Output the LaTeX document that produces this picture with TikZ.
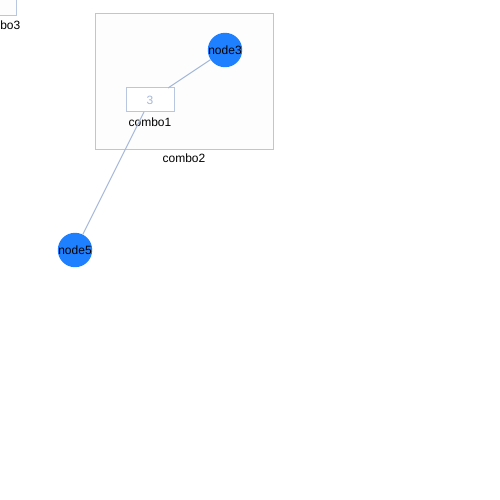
\documentclass[tikz,border=0pt]{standalone}
\usepackage{fontspec}
\setmainfont{Liberation Sans}
\begin{document}
\begin{tikzpicture}[x=1pt,y=-1pt,
  every node/.style={font=\fontsize{12}{14}\selectfont, inner sep=0pt, outer sep=0pt},
  combobox/.style={draw=combos, fill=combof, line width=1pt, rectangle},
  dot/.style={circle, fill=nodec, minimum size=32pt},
  lbl/.style={text=black},
  conn/.style={draw=edgec, line width=1pt}]
\definecolor{nodec}{HTML}{1F80FF}
\definecolor{edgec}{HTML}{A6B8DA}
\definecolor{combos}{HTML}{B8C6E2}
\definecolor{combof}{HTML}{FDFDFD}
\useasboundingbox[fill=white] (0,0) rectangle (500,500);
% combo3 (clipped)
\node[combobox, minimum width=34pt, minimum height=34pt] (c3) at (-1,-1.5) {};
\node[lbl] (c3l) at (-1,25) {combo3};
% combo2
\node[combobox, minimum width=178pt, minimum height=135pt] (c2) at (184,81.5) {};
\node[lbl] (c2l) at (184,158) {combo2};
% combo1
\node[combobox, fill=white, minimum width=48pt, minimum height=24pt, text=edgec] (c1) at (150,100) {3};
\node[lbl] (c1l) at (150,122) {combo1};
% nodes
\node[dot] (n3) at (225,50) {node3};
\node[dot] (n5) at (75,250) {node5};
% edges
\path[conn] (n3) -- (c1);
\path[conn] (n5) -- (c1);
\end{tikzpicture}
\end{document}
